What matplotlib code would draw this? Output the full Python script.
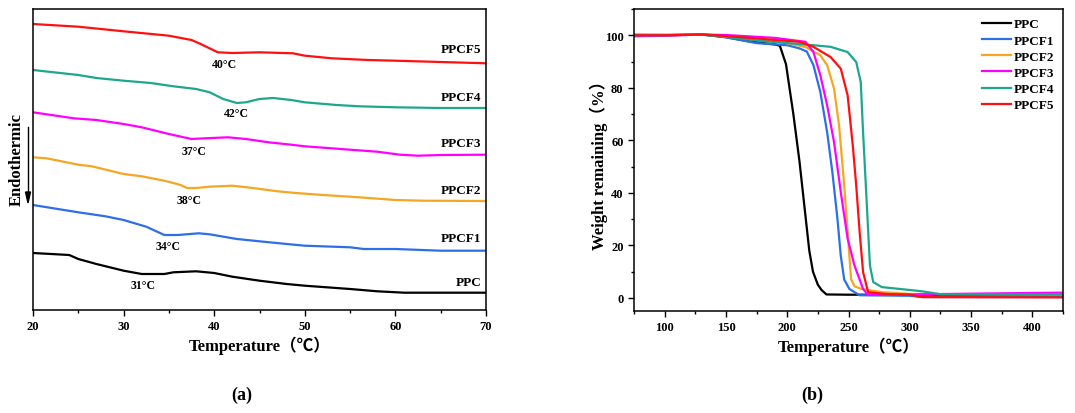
import matplotlib.pyplot as plt
from matplotlib.ticker import MultipleLocator

plt.rcParams['font.family'] = ['Liberation Serif', 'Noto Sans CJK SC']
plt.rcParams['font.weight'] = 'bold'

# ---- (a) DSC curves, arbitrary offset units ----
dsc_names = ['PPC', 'PPCF1', 'PPCF2', 'PPCF3', 'PPCF4', 'PPCF5']
dsc_colors = ['black', '#2d6fe8', '#f5a623', '#ff00ff', '#1fa68f', '#ff1010']

ppc_t = [20, 24, 25, 27, 30, 32, 34.5, 35.5, 38, 40, 42, 45, 48, 50, 55, 58, 61, 70]
ppc_y = [57, 55, 51, 46, 39.3, 36, 36, 37.7, 38.7, 37, 33.3, 29.3, 26, 24.3, 21, 18.7, 17.3, 17.3]

f1_t = [20, 25, 28, 30, 32.5, 34.5, 36, 38.3, 39.5, 42.5, 45, 48, 50, 55, 56.5, 60, 65, 70]
f1_y = [105, 97.7, 93.7, 90, 83.3, 75, 75, 76.7, 75.7, 71, 68.7, 66, 64.3, 62.7, 61, 61, 59.3, 59.3]

f2_t = [20, 21.5, 25, 26.5, 30, 32, 34.5, 36.3, 37, 38, 39.5, 42, 44, 47, 49, 52, 56, 60, 63, 70]
f2_y = [152.7, 151.7, 145.3, 143.7, 136, 133.7, 129.3, 125, 122, 122, 123.3, 124.3, 122.3,
        118.7, 117, 115, 112.7, 110, 109.3, 109]

f3_t = [20, 24.5, 27, 30, 32, 35, 37.5, 39, 41.5, 43.5, 46, 48.5, 50, 55, 58, 60.5, 62.5, 65, 70]
f3_y = [197.7, 191.7, 190, 186, 182.7, 176, 171, 171.7, 172.7, 171, 167.7, 165.3, 163.7,
        160.3, 158.3, 155.3, 154.3, 155, 155.3]

f4_t = [20, 25, 27, 30, 33, 35.5, 38, 39.5, 41, 42.5, 43.5, 45, 46.5, 48.5, 50, 53.5, 56, 60, 65, 70]
f4_y = [240, 235, 232, 229.3, 227, 223.7, 221, 217.7, 211, 207, 207.7, 211, 212, 210, 207.7,
        205, 203.7, 202.7, 202, 202]

f5_t = [20, 25, 30, 35, 37.5, 38.5, 40.4, 42, 45, 48.7, 50, 53, 57, 60, 65, 70]
f5_y = [286, 283.3, 278.7, 274.3, 270, 266, 257.7, 257, 257.7, 256.7, 254.3, 251.7, 250,
        249.3, 248, 246.7]

dsc_t = [ppc_t, f1_t, f2_t, f3_t, f4_t, f5_t]
dsc_y = [ppc_y, f1_y, f2_y, f3_y, f4_y, f5_y]

tg_labels = ['31°C', '34°C', '38°C', '37°C', '42°C', '40°C']
tg_pos = [(32.1, 25), (34.9, 64.3), (37.2, 110), (37.8, 159.3), (42.4, 196.7), (41.1, 246)]
name_y = [27.7, 71.7, 120, 167, 212.7, 261]

# ---- (b) TGA curves ----
tga_x = [
    [75, 100, 130, 150, 170, 190, 194, 199, 205, 210, 214, 218, 221, 225, 228, 232, 250, 300, 425],
    [75, 100, 130, 150, 175, 200, 210, 216, 221.4, 227, 232.6, 236.8, 241, 243.7, 246.5, 250.7, 259, 300, 310, 425],
    [75, 100, 130, 150, 175, 200, 215, 227, 232.6, 238.2, 242.3, 246.5, 249.3, 252.1, 254.9, 260.5, 277, 300, 425],
    [75, 100, 130, 150, 190, 215, 221.4, 227, 232.6, 238.2, 243.7, 249.3, 254.9, 261.9, 266, 300, 350, 425],
    [75, 100, 130, 150, 175, 200, 221.4, 235.4, 249.3, 256.3, 260, 261.9, 264.7, 267.5, 270.2, 277.2, 300, 310, 325, 425],
    [75, 100, 130, 150, 175, 190, 210, 221.4, 235.4, 243.7, 249.3, 253.5, 256.3, 259.1, 261.9, 266, 280, 300, 310, 425],
]
tga_y = [
    [100, 100, 100.3, 99.3, 97.6, 96.5, 96, 89, 70, 52, 35, 18, 10, 5, 3, 1.3, 1.2, 1.2, 1.2],
    [100, 100, 100.3, 99.2, 97, 96.2, 95, 93.8, 88.6, 78.4, 63, 48, 30, 16, 7, 3.4, 1, 0.8, 0.3, 0.3],
    [100.4, 100.3, 100.4, 99.6, 98.3, 97, 95.5, 92.4, 88.6, 79.7, 65.7, 42.8, 25, 7.2, 4.4, 3.4, 2.2, 1.5, 1.2],
    [99.6, 99.8, 100.3, 100.1, 99, 97.5, 93.6, 84.8, 73.3, 59.3, 40.3, 22.5, 12.3, 3.4, 1.1, 1.3, 1.6, 2.0],
    [100, 100, 100.3, 99.4, 98, 97, 96.2, 95.6, 93.6, 89.8, 82.2, 63, 37.7, 12.3, 6, 4.1, 3, 2.5, 1.4, 1.3],
    [100, 100, 100.3, 99.7, 98.8, 98.2, 97.5, 95.6, 91.7, 87.3, 77.1, 58, 42.8, 25, 9.8, 2.2, 1.5, 1.2, 0.3, 0.2],
]

fig = plt.figure(figsize=(10.75, 4.14), dpi=100)
ax1 = fig.add_axes([33 / 1075, 103 / 414, 453 / 1075, 301 / 414])
ax2 = fig.add_axes([634 / 1075, 102 / 414, 429 / 1075, 302 / 414])

for t, y, c in zip(dsc_t, dsc_y, dsc_colors):
    ax1.plot(t, y, color=c, lw=1.6)
for lab, (x, y) in zip(tg_labels, tg_pos):
    ax1.text(x, y, lab, ha='center', va='center', fontsize=8.5, fontweight='bold')
for n, y in zip(dsc_names, name_y):
    ax1.text(69.5, y, n, ha='right', va='center', fontsize=9.5, fontweight='bold')

ax1.set_xlim(20, 70)
ax1.set_ylim(0, 301)
ax1.set_yticks([])
ax1.xaxis.set_major_locator(MultipleLocator(10))
ax1.xaxis.set_minor_locator(MultipleLocator(5))
ax1.tick_params(axis='x', which='major', length=4, width=1, labelsize=9)
ax1.tick_params(axis='x', which='minor', length=2.5, width=1)
ax1.set_xlabel('Temperature（℃）', fontsize=12, fontweight='bold', labelpad=2)
for s in ax1.spines.values():
    s.set_linewidth(1.1)

fig.text(17 / 1075, 1 - 160 / 414, 'Endothermic', rotation=90, ha='center', va='center',
         fontsize=12, fontweight='bold')
fig.add_artist(plt.Line2D([28 / 1075, 28 / 1075], [1 - 128 / 414, 1 - 198 / 414],
                          color='black', lw=1))
fig.patches.append(plt.Polygon([[25.5 / 1075, 1 - 193 / 414], [30.5 / 1075, 1 - 193 / 414],
                                [28 / 1075, 1 - 204 / 414]], closed=True, color='black',
                               transform=fig.transFigure, figure=fig))

for x, y, n, c in zip(tga_x, tga_y, dsc_names, dsc_colors):
    ax2.plot(x, y, color=c, lw=1.6, label=n)
ax2.set_xlim(75, 425)
ax2.set_ylim(-5, 110)
ax2.xaxis.set_major_locator(MultipleLocator(50))
ax2.xaxis.set_minor_locator(MultipleLocator(25))
ax2.yaxis.set_major_locator(MultipleLocator(20))
ax2.yaxis.set_minor_locator(MultipleLocator(10))
ax2.tick_params(which='major', length=4, width=1, labelsize=9)
ax2.tick_params(which='minor', length=2.5, width=1)
ax2.set_xlabel('Temperature（℃）', fontsize=12, fontweight='bold', labelpad=2)
ax2.set_ylabel('Weight remaining（%）', fontsize=12, fontweight='bold', labelpad=-2)
for s in ax2.spines.values():
    s.set_linewidth(1.1)
leg = ax2.legend(loc='upper right', frameon=False, handlelength=2.2,
                 handletextpad=0.2, labelspacing=0.3, borderaxespad=0.3,
                 prop={'weight': 'bold', 'size': 9.5})

fig.text(242 / 1075, 1 - 395 / 414, '(a)', ha='center', va='center', fontsize=13)
fig.text(812 / 1075, 1 - 395 / 414, '(b)', ha='center', va='center', fontsize=13)

fig.savefig('out.png', dpi=100)
